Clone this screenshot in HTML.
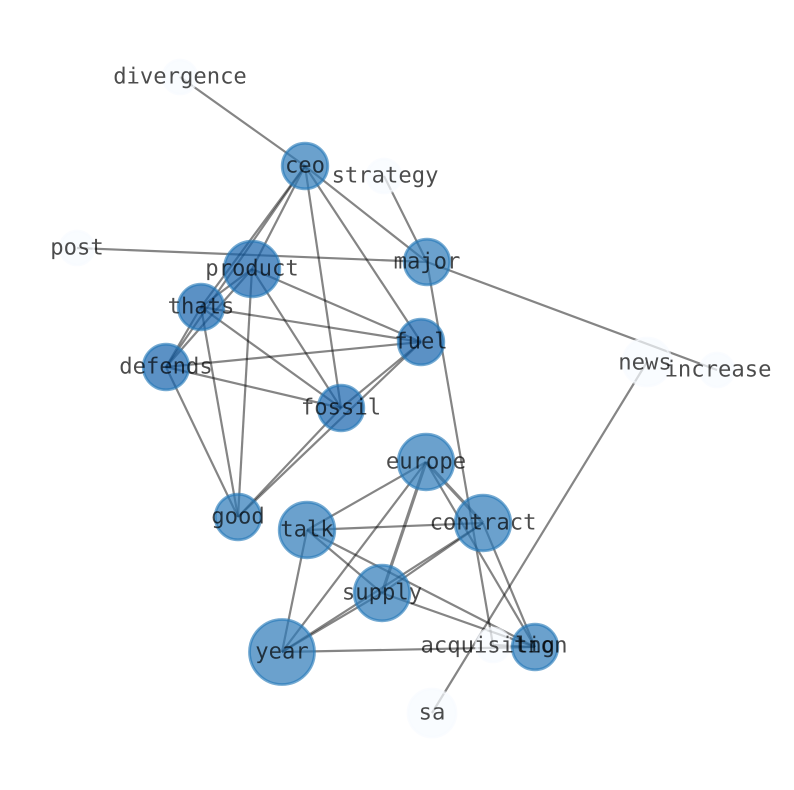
<!DOCTYPE html>
<html><head><meta charset="utf-8"><style>
html,body{margin:0;padding:0;background:#fff}
svg{display:block}
.e line{stroke:#000;stroke-opacity:.48;stroke-width:2.2}
.e line.t{stroke-width:3.2}
.n circle{stroke:#2479b8;stroke-width:2.8;fill-opacity:.7;stroke-opacity:.63}
.n circle.a{fill:#2c79b8}
.n circle.d{fill:#1562ac}
.n circle.w{fill:#f7fbff;stroke:#f7fbff}
text{font-family:"DejaVu Sans Mono","Liberation Mono",monospace;font-size:22.2px;fill:#000;fill-opacity:.7;text-anchor:middle;text-rendering:geometricPrecision}
</style></head><body>
<svg width="794" height="790" viewBox="0 0 794 790" xmlns="http://www.w3.org/2000/svg">
<rect width="794" height="790" fill="#fff"/>
<g class="e">
<line x1="180" y1="77" x2="305" y2="166"/>
<line x1="305" y1="166" x2="252" y2="269"/>
<line x1="305" y1="166" x2="201" y2="307"/>
<line x1="305" y1="166" x2="166" y2="367"/>
<line x1="305" y1="166" x2="427" y2="262"/>
<line x1="305" y1="166" x2="421" y2="342"/>
<line x1="305" y1="166" x2="341" y2="408"/>
<line x1="384" y1="176" x2="427" y2="262"/>
<line x1="77" y1="248" x2="427" y2="262"/>
<line x1="427" y1="262" x2="717" y2="370"/>
<line x1="427" y1="262" x2="493" y2="645"/>
<line x1="252" y1="269" x2="201" y2="307"/>
<line x1="252" y1="269" x2="166" y2="367"/>
<line x1="252" y1="269" x2="421" y2="342"/>
<line x1="252" y1="269" x2="341" y2="408"/>
<line x1="252" y1="269" x2="238" y2="517"/>
<line x1="201" y1="307" x2="166" y2="367"/>
<line x1="201" y1="307" x2="421" y2="342"/>
<line x1="201" y1="307" x2="341" y2="408"/>
<line x1="201" y1="307" x2="238" y2="517"/>
<line x1="421" y1="342" x2="166" y2="367"/>
<line x1="421" y1="342" x2="341" y2="408"/>
<line x1="421" y1="342" x2="238" y2="517"/>
<line x1="166" y1="367" x2="341" y2="408"/>
<line x1="166" y1="367" x2="238" y2="517"/>
<line x1="341" y1="408" x2="238" y2="517"/>
<line x1="647" y1="362" x2="432" y2="713"/>
<line x1="426" y1="462" x2="307" y2="530"/>
<line class="t" x1="426" y1="462" x2="483" y2="523"/>
<line class="t" x1="426" y1="462" x2="382" y2="593"/>
<line x1="426" y1="462" x2="282" y2="652"/>
<line x1="426" y1="462" x2="535" y2="647"/>
<line x1="307" y1="530" x2="483" y2="523"/>
<line x1="307" y1="530" x2="382" y2="593"/>
<line x1="307" y1="530" x2="535" y2="647"/>
<line x1="307" y1="530" x2="282" y2="652"/>
<line x1="483" y1="523" x2="382" y2="593"/>
<line x1="483" y1="523" x2="282" y2="652"/>
<line x1="483" y1="523" x2="535" y2="647"/>
<line x1="382" y1="593" x2="282" y2="652"/>
<line x1="382" y1="593" x2="535" y2="647"/>
<line x1="282" y1="652" x2="535" y2="647"/>
<line x1="493" y1="645" x2="535" y2="647"/>
</g>
<g class="n">
<circle class="w" cx="180" cy="77" r="17"/>
<circle class="a" cx="305" cy="166" r="22.8"/>
<circle class="w" cx="384" cy="176" r="17"/>
<circle class="a" cx="427" cy="262" r="22.8"/>
<circle class="w" cx="77" cy="248" r="17"/>
<circle class="d" cx="252" cy="269" r="27.8"/>
<circle class="d" cx="201" cy="307" r="22.8"/>
<circle class="d" cx="421" cy="342" r="22.8"/>
<circle class="d" cx="166" cy="367" r="22.8"/>
<circle class="d" cx="341" cy="408" r="22.8"/>
<circle class="w" cx="647" cy="362" r="24"/>
<circle class="w" cx="717" cy="370" r="17"/>
<circle class="a" cx="426" cy="462" r="27.8"/>
<circle class="a" cx="238" cy="517" r="22.8"/>
<circle class="a" cx="307" cy="530" r="27.8"/>
<circle class="a" cx="483" cy="523" r="27.8"/>
<circle class="a" cx="382" cy="593" r="27.8"/>
<circle class="a" cx="282" cy="652" r="32.5"/>
<circle class="w" cx="493" cy="645" r="17"/>
<circle class="a" cx="535" cy="647" r="22.8"/>
<circle class="w" cx="432" cy="713" r="24"/>
</g>
<g>
<text x="180" y="83.5">divergence</text>
<text x="305" y="172.5">ceo</text>
<text x="385" y="182.5">strategy</text>
<text x="427" y="268.5">major</text>
<text x="77" y="254.5">post</text>
<text x="252" y="275.5">product</text>
<text x="201" y="313.5">thats</text>
<text x="421" y="348.5">fuel</text>
<text x="166" y="373.5">defends</text>
<text x="341" y="414.5">fossil</text>
<text x="645" y="369.5">news</text>
<text x="718" y="376.5">increase</text>
<text x="426" y="468.5">europe</text>
<text x="238" y="523.5">good</text>
<text x="307" y="536.5">talk</text>
<text x="483" y="529.5">contract</text>
<text x="382" y="599.5">supply</text>
<text x="282" y="658.5">year</text>
<text x="494" y="652.5">acquisition</text>
<text x="535" y="652.5">lng</text>
<text x="432" y="719.5">sa</text>
</g>
</svg>
</body></html>
